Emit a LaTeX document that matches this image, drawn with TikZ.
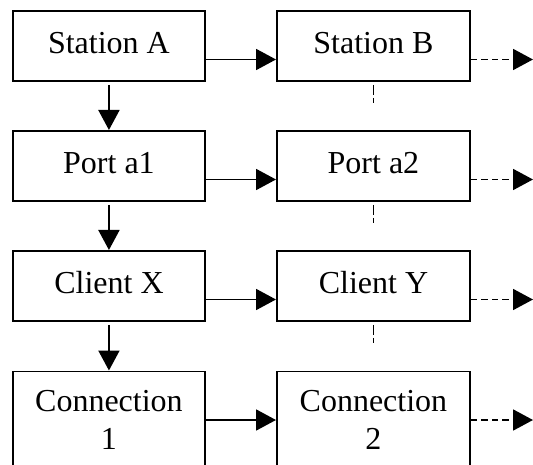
\documentclass[tikz,border=0pt]{standalone}
\usepackage{fontspec}
\setmainfont{Liberation Serif}
\usetikzlibrary{arrows.meta,calc}
\begin{document}
\begin{tikzpicture}[x=1pt,y=-1pt,
  box/.style={draw, line width=1.9pt, rectangle, inner sep=0pt, anchor=north west,
    minimum width=192pt, font=\fontsize{32}{38}\selectfont},
  onebox/.style={box, minimum height=70pt, text height=22pt, text depth=6pt},
  twobox/.style={box, minimum height=96pt, align=center},
  link/.style={line width=1.9pt, -{Triangle[length=20pt,width=21pt]}},
  more/.style={link, dash pattern=on 6.5pt off 4pt},
  stub/.style={line width=1.3pt, dash pattern=on 10pt off 3pt}]
\useasboundingbox (0,0) rectangle (533,465);
\clip (0,0) rectangle (533,465);

% left column
\node[onebox] (sa) at (12,10) {Station A};
\node[onebox] (pa) at (12,130) {Port a1};
\node[onebox] (xa) at (12,250) {Client X};
\node[twobox] (ca) at (12,370.5) {Connection\\1};

% right column
\node[onebox, minimum width=193pt] (sb) at (276,10) {Station B};
\node[onebox, minimum width=193pt] (pb) at (276,130) {Port a2};
\node[onebox, minimum width=193pt] (xb) at (276,250) {Client Y};
\node[twobox, minimum width=193pt] (cb) at (276,370.5) {Connection\\2};

% downward links
\draw[link] ($(sa.south)+(0,3)$) -- (pa.north);
\draw[link] ($(pa.south)+(0,3)$) -- (xa.north);
\draw[link] ($(xa.south)+(0,3)$) -- (ca.north);

% row links and continuations
\foreach \l/\r in {sa/sb, pa/pb, xa/xb, ca/cb} {
  \draw[link] ($(\l.north east)+(0,49.5)$) -- ($(\r.north west)+(0,49.5)$);
  \coordinate (\r-out) at ($(\r.north east)+(0,49.5)$);
  \coordinate (\r-end) at (533,0 |- \r-out);
  \draw[more] (\r-out) -- (\r-end);
}

% short dashed stubs below the right column
\foreach \r in {sb, pb, xb} {
  \coordinate (\r-stub) at ($(\r.south)+(0,21)$);
  \draw[stub] ($(\r.south)+(0,3)$) -- (\r-stub);
}
\end{tikzpicture}
\end{document}
